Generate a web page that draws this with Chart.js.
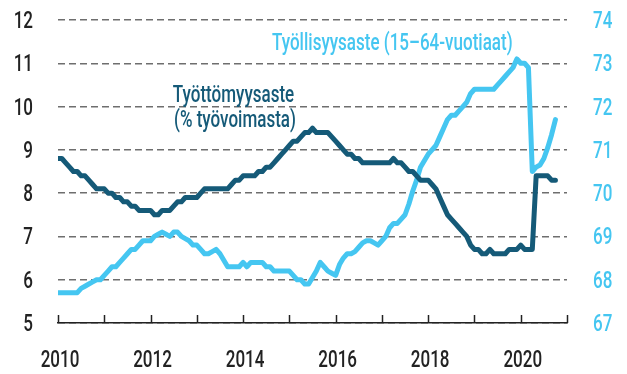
<!DOCTYPE html>
<html>
<head>
<meta charset="utf-8">
<script src="https://cdn.jsdelivr.net/npm/chart.js@4/dist/chart.umd.min.js"></script>
<style>
  html, body { margin: 0; padding: 0; background: #fff; }
  #wrap { width: 627px; height: 374px; }
</style>
</head>
<body>
<div id="wrap"><canvas id="labourChart" width="627" height="374"></canvas></div>
<script>
// monthly series, Jan 2010 onwards
const startYear = 2010;

// unemployment rate, % of labour force (left axis)
const unemployment = [
  8.8, 8.8, 8.7, 8.6, 8.5, 8.5, 8.4, 8.4, 8.3, 8.2, 8.1, 8.1,
  8.1, 8.0, 8.0, 7.9, 7.9, 7.8, 7.8, 7.7, 7.7, 7.6, 7.6, 7.6,
  7.6, 7.5, 7.5, 7.6, 7.6, 7.6, 7.7, 7.8, 7.8, 7.9, 7.9, 7.9,
  7.9, 8.0, 8.1, 8.1, 8.1, 8.1, 8.1, 8.1, 8.1, 8.2, 8.3, 8.3,
  8.4, 8.4, 8.4, 8.4, 8.5, 8.5, 8.6, 8.6, 8.7, 8.8, 8.9, 9.0,
  9.1, 9.2, 9.2, 9.3, 9.4, 9.4, 9.5, 9.4, 9.4, 9.4, 9.4, 9.3,
  9.2, 9.1, 9.0, 8.9, 8.9, 8.8, 8.8, 8.7, 8.7, 8.7, 8.7, 8.7,
  8.7, 8.7, 8.7, 8.8, 8.7, 8.7, 8.6, 8.5, 8.5, 8.4, 8.3, 8.3,
  8.3, 8.2, 8.1, 7.9, 7.7, 7.5, 7.4, 7.3, 7.2, 7.1, 7.0, 6.8,
  6.7, 6.7, 6.6, 6.6, 6.7, 6.6, 6.6, 6.6, 6.6, 6.7, 6.7, 6.7,
  6.8, 6.7, 6.7, 6.7, 8.4, 8.4, 8.4, 8.4, 8.3, 8.3
];

// employment rate, 15-64 year olds (right axis)
const employment = [
  67.7, 67.7, 67.7, 67.7, 67.7, 67.7, 67.8, 67.85, 67.9, 67.95, 68.0, 68.0,
  68.1, 68.2, 68.3, 68.3, 68.4, 68.5, 68.6, 68.7, 68.7, 68.8, 68.9, 68.9,
  68.9, 69.0, 69.05, 69.1, 69.05, 69.0, 69.1, 69.1, 69.0, 68.95, 68.9, 68.8,
  68.8, 68.7, 68.6, 68.6, 68.65, 68.7, 68.6, 68.45, 68.3, 68.3, 68.3, 68.3,
  68.4, 68.3, 68.4, 68.4, 68.4, 68.4, 68.3, 68.3, 68.2, 68.2, 68.2, 68.2,
  68.2, 68.1, 68.0, 68.0, 67.9, 67.9, 68.05, 68.2, 68.4, 68.3, 68.2, 68.15,
  68.1, 68.35, 68.5, 68.6, 68.6, 68.65, 68.75, 68.85, 68.9, 68.9, 68.85, 68.8,
  68.9, 69.0, 69.2, 69.3, 69.3, 69.4, 69.5, 69.75, 70.05, 70.3, 70.6, 70.75,
  70.9, 71.0, 71.1, 71.3, 71.5, 71.7, 71.8, 71.8, 71.9, 72.0, 72.1, 72.3,
  72.4, 72.4, 72.4, 72.4, 72.4, 72.4, 72.5, 72.6, 72.7, 72.8, 72.9, 73.1,
  73.0, 73.0, 72.9, 70.5, 70.6, 70.65, 70.8, 71.05, 71.35, 71.7
];

const yearTicks = [2010, 2011, 2012, 2013, 2014, 2015, 2016, 2017, 2018, 2019, 2020, 2021];
const yearLabels = [2010, 2012, 2014, 2016, 2018, 2020];
const leftTicks = [5, 6, 7, 8, 9, 10, 11, 12];
const rightTicks = [67, 68, 69, 70, 71, 72, 73, 74];

const DARK = "#155a78";
const LIGHT = "#45c6f1";
const INK = "#222";
const FONT = "500 23px Roboto, 'Liberation Sans', sans-serif";
const SQUEEZE = 0.74; // condensed look for all text

const toPoints = arr => arr.map((v, i) => ({ x: startYear + i / 12, y: v }));

function squeezedText(ctx, text, x, y, align, color) {
  ctx.save();
  ctx.translate(x, y);
  ctx.scale(SQUEEZE, 1);
  ctx.font = FONT;
  ctx.fillStyle = color;
  ctx.textAlign = align;
  ctx.textBaseline = "alphabetic";
  ctx.fillText(text, 0, 0);
  ctx.restore();
}

// upward tick marks on the year axis plus all axis numbers
const axisText = {
  id: "axisText",
  afterDatasetsDraw(chart) {
    const { ctx, scales: { x, y, y1 }, chartArea } = chart;
    ctx.save();
    ctx.strokeStyle = INK;
    ctx.lineWidth = 1.5;
    yearTicks.forEach(yr => {
      const px = Math.round(x.getPixelForValue(yr)) + 0.5;
      ctx.beginPath();
      ctx.moveTo(px, chartArea.bottom);
      ctx.lineTo(px, chartArea.bottom - 8);
      ctx.stroke();
    });
    ctx.restore();

    yearLabels.forEach(yr => {
      squeezedText(ctx, String(yr), x.getPixelForValue(yr) + 2, chartArea.bottom + 44, "center", INK);
    });
    leftTicks.forEach(v => {
      squeezedText(ctx, String(v), chartArea.left - 25, y.getPixelForValue(v) + 8, "right", INK);
    });
    rightTicks.forEach(v => {
      squeezedText(ctx, String(v), chartArea.right + 26, y1.getPixelForValue(v) + 8, "left", LIGHT);
    });
  }
};

// series names written inside the plot
const seriesNames = {
  id: "seriesNames",
  afterDatasetsDraw(chart) {
    const { ctx, scales: { x, y } } = chart;
    squeezedText(ctx, "Työllisyysaste (15–64-vuotiaat)", x.getPixelForValue(2014.625), y.getPixelForValue(11.307), "left", LIGHT);
    squeezedText(ctx, "Työttömyysaste", x.getPixelForValue(2013.793), y.getPixelForValue(10.106), "center", DARK);
    squeezedText(ctx, "(% työvoimasta)", x.getPixelForValue(2013.825), y.getPixelForValue(9.528), "center", DARK);
  }
};

new Chart(document.getElementById("labourChart"), {
  type: "line",
  data: {
    datasets: [
      {
        label: "Työttömyysaste",
        data: toPoints(unemployment),
        yAxisID: "y",
        borderColor: DARK,
        borderWidth: 5,
        pointRadius: 0,
        tension: 0,
        borderJoinStyle: "round",
        borderCapStyle: "round"
      },
      {
        label: "Työllisyysaste",
        data: toPoints(employment),
        yAxisID: "y1",
        borderColor: LIGHT,
        borderWidth: 5,
        pointRadius: 0,
        tension: 0,
        borderJoinStyle: "round",
        borderCapStyle: "round"
      }
    ]
  },
  options: {
    responsive: false,
    animation: false,
    layout: { padding: { top: 20 } },
    plugins: {
      legend: { display: false },
      tooltip: { enabled: false }
    },
    scales: {
      x: {
        type: "linear",
        min: 2010,
        max: 2021,
        afterBuildTicks: s => { s.ticks = yearTicks.map(v => ({ value: v })); },
        ticks: { display: false },
        grid: { display: false, drawTicks: false },
        border: { display: true, color: INK, width: 1.5 },
        afterFit: s => { s.height = 51; }
      },
      y: {
        position: "left",
        min: 5,
        max: 12,
        afterBuildTicks: s => { s.ticks = leftTicks.map(v => ({ value: v })); },
        ticks: { display: false },
        grid: { color: "#6e6e6e", lineWidth: 1.5, drawTicks: false },
        border: { display: false, dash: [7, 4] },
        afterFit: s => { s.width = 58; }
      },
      y1: {
        position: "right",
        min: 67,
        max: 74,
        afterBuildTicks: s => { s.ticks = rightTicks.map(v => ({ value: v })); },
        ticks: { display: false },
        grid: { drawOnChartArea: false, drawTicks: false },
        border: { display: false },
        afterFit: s => { s.width = 60; }
      }
    }
  },
  plugins: [axisText, seriesNames]
});
</script>
</body>
</html>
